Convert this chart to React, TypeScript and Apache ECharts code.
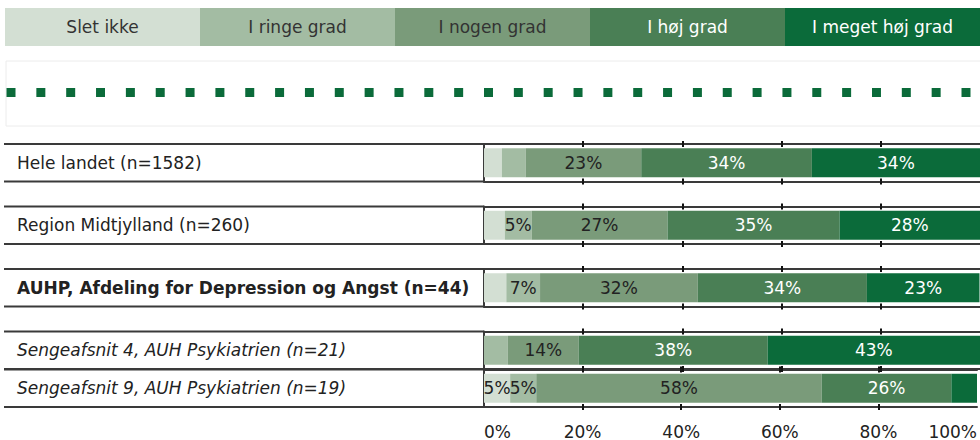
import React, { useEffect, useRef } from "react";
import * as echarts from "echarts";

// ---- data ----
const categories = ["Slet ikke", "I ringe grad", "I nogen grad", "I høj grad", "I meget høj grad"];
const rowLabels = [
  "Hele landet (n=1582)",
  "Region Midtjylland (n=260)",
  "AUHP, Afdeling for Depression og Angst (n=44)",
  "Sengeafsnit 4, AUH Psykiatrien (n=21)",
  "Sengeafsnit 9, AUH Psykiatrien (n=19)",
];
const sletIkke = [3.6, 4.2, 4.5, 0, 5.3];
const ringeGrad = [4.8, 5.4, 6.8, 4.8, 5.3];
const nogenGrad = [23.3, 27.4, 31.8, 14.3, 57.9];
const hoejGrad = [34.4, 34.7, 34.1, 38.1, 26.3];
const megetHoejGrad = [33.9, 28.3, 22.7, 42.8, 5.2];
const hiddenLabels = [[4, 4]]; // [row, category] whose label is not shown
const xTickValues = [0, 20, 40, 60, 80, 100];
const innerTickValues = [20, 40, 60, 80];

// ---- styling / layout ----
const colors = ["#d3dfd3", "#a3bca3", "#7a9b7a", "#4a7f55", "#0b6b3a"];
const labelColors = ["#222", "#222", "#222", "#fff", "#fff"];
const FONT = "DejaVu Sans";
const FS = 17;
const plotLeft = 484;
const rowTops = [144, 206.5, 269, 331.5, 369.5];
const rowH = 37.5;
const lineColor = "#3a3a3a";

export default function App() {
  const ref = useRef<HTMLDivElement>(null);
  useEffect(() => {
    if (!ref.current) return;
    const chart = echarts.init(ref.current, null, { renderer: "svg" });
    const seriesVals = [sletIkke, ringeGrad, nogenGrad, hoejGrad, megetHoejGrad];

    const grids: any[] = [];
    const xAxes: any[] = [];
    const yAxes: any[] = [];
    const series: any[] = [];
    rowLabels.forEach((lab, i) => {
      grids.push({ left: plotLeft, right: 0, top: rowTops[i], height: rowH });
      const base = {
        type: "value",
        gridIndex: i,
        min: 0,
        max: 100,
        interval: 20,
        splitLine: { show: false },
        axisLabel: { show: false },
      };
      const tick = (inside: boolean) => ({
        show: true,
        inside,
        length: 3,
        customValues: innerTickValues,
        lineStyle: { color: "#111", width: 2 },
      });
      xAxes.push({ ...base, position: "top", axisLine: { show: true, lineStyle: { color: lineColor, width: 2 } }, axisTick: tick(false) });
      xAxes.push({ ...base, position: "top", axisLine: { show: false }, axisTick: tick(true) });
      xAxes.push({
        ...base,
        position: "bottom",
        axisLine: { show: true, lineStyle: { color: lineColor, width: 2 } },
        axisTick: tick(false),
        axisLabel:
          i === rowLabels.length - 1
            ? {
                show: true,
                customValues: xTickValues,
                formatter: "{value}%",
                fontFamily: FONT,
                fontSize: FS,
                color: "#222",
                margin: 16,
                alignMinLabel: "left",
                alignMaxLabel: "right",
              }
            : { show: false },
      });
      xAxes.push({ ...base, position: "bottom", axisLine: { show: false }, axisTick: tick(true) });
      yAxes.push({
        type: "category",
        gridIndex: i,
        data: [lab],
        axisLine: { show: true, lineStyle: { color: lineColor, width: 2 } },
        axisTick: { show: false },
        axisLabel: {
          align: "left",
          margin: plotLeft - 17,
          fontFamily: FONT,
          fontSize: FS,
          color: "#222",
          fontWeight: i === 2 ? "bold" : "normal",
          fontStyle: i >= 3 ? "italic" : "normal",
        },
      });
      categories.forEach((cat, k) => {
        const hide = hiddenLabels.some(([r, c]) => r === i && c === k);
        series.push({
          type: "bar",
          name: cat,
          stack: "row" + i,
          xAxisIndex: i * 4,
          yAxisIndex: i,
          barWidth: 29,
          data: [seriesVals[k][i]],
          itemStyle: { color: colors[k] },
          label: {
            show: !hide,
            position: "inside",
            fontFamily: FONT,
            fontSize: FS,
            color: labelColors[k],
            formatter: (p: any) => (p.value >= 5 ? Math.round(p.value) + "%" : ""),
          },
        });
      });
    });

    const graphic: any[] = [];
    // legend bar
    const segW = 195;
    categories.forEach((cat, k) => {
      graphic.push({
        type: "rect",
        shape: { x: 5 + segW * k, y: 8, width: segW, height: 38 },
        style: { fill: colors[k] },
      });
      graphic.push({
        type: "text",
        x: 5 + segW * k + segW / 2,
        y: 27,
        style: {
          text: cat,
          fill: labelColors[k] === "#fff" ? "#fff" : "#333",
          font: `${FS}px "${FONT}"`,
          align: "center",
          verticalAlign: "middle",
        },
      });
    });
    // faint box with dotted line
    graphic.push({
      type: "rect",
      shape: { x: 6, y: 61, width: 990, height: 65 },
      style: { fill: "none", stroke: "#ececec", lineWidth: 1 },
    });
    const nSq = 33;
    for (let j = 0; j < nSq; j++) {
      const cx = 11 + (j * (966 - 11)) / (nSq - 1);
      graphic.push({
        type: "rect",
        shape: { x: cx - 4.5, y: 88, width: 9, height: 9 },
        style: { fill: "#0b6b3a" },
      });
    }
    // label-area row lines
    rowTops.forEach((t) => {
      [t, t + rowH].forEach((y) => {
        graphic.push({
          type: "line",
          shape: { x1: 4, y1: y, x2: plotLeft, y2: y },
          style: { stroke: lineColor, lineWidth: 2 },
        });
      });
    });

    chart.setOption({
      animation: false,
      grid: grids,
      xAxis: xAxes,
      yAxis: yAxes,
      series,
      graphic,
    });
    return () => chart.dispose();
  }, []);
  return (
    <div
      ref={ref}
      style={{ position: "absolute", left: 0, top: 0, width: 980, height: 440, background: "#fff" }}
    />
  );
}
